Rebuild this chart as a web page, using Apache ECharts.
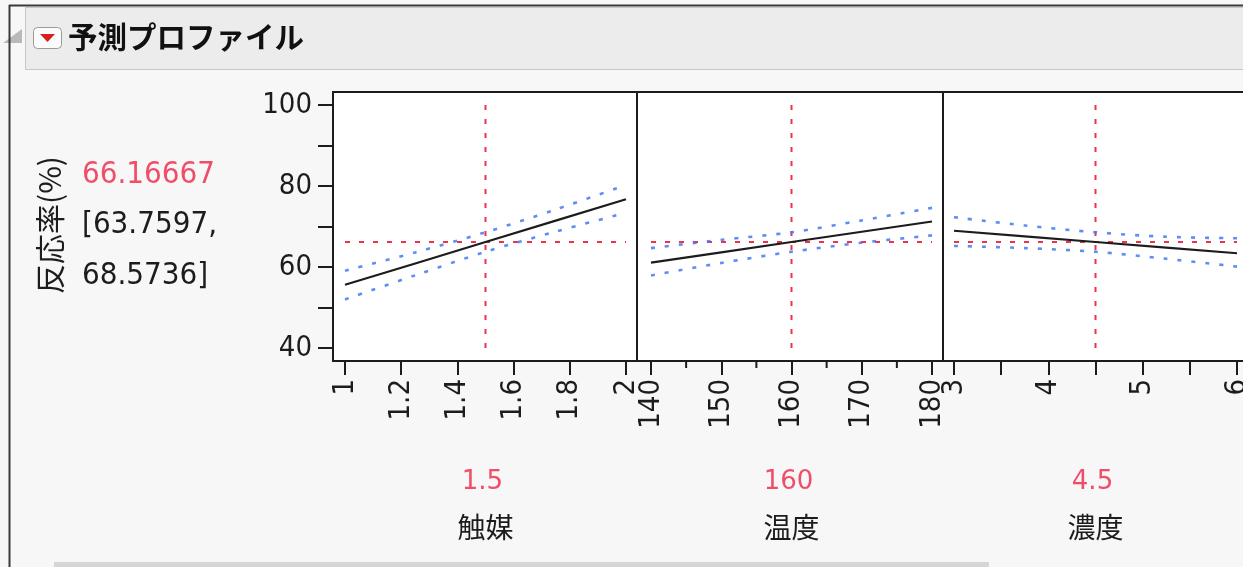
<!DOCTYPE html>
<html>
<head>
<meta charset="utf-8">
<title>予測プロファイル</title>
<script src="https://cdn.jsdelivr.net/npm/echarts@6/dist/echarts.min.js"></script>
<style>
  html, body { margin: 0; padding: 0; background: #f7f7f7; }
  #chart { width: 1243px; height: 567px; }
</style>
</head>
<body>
<div id="chart"></div>
<script>
// Response
const responseName = '反応率(%)';
const prediction = 66.16667;
const ciLow = 63.7597;
const ciHigh = 68.5736;
const yTicks = [40, 50, 60, 70, 80, 90, 100];
const yLabels = [40, 60, 80, 100];

// Factors and their current settings
const factorNames = ['触媒', '温度', '濃度'];
const currentValues = [1.5, 160, 4.5];

// 触媒 (catalyst) profile
const xCatalyst = [1, 1.25, 1.5, 1.75, 2];
const predCatalyst = [55.6, 60.88, prediction, 71.45, 76.73];
const upperCatalyst = [59.1, 63.6, ciHigh, 74.2, 80.25];
const lowerCatalyst = [52.0, 57.95, ciLow, 68.75, 73.4];
const tickCatalyst = [1, 1.2, 1.4, 1.6, 1.8, 2];
const labelCatalyst = [1, 1.2, 1.4, 1.6, 1.8, 2];

// 温度 (temperature) profile
const xTemp = [140, 150, 160, 170, 180];
const predTemp = [61.1, 63.63, prediction, 68.7, 71.23];
const upperTemp = [64.67, 66.7, ciHigh, 71.5, 74.6];
const lowerTemp = [57.9, 61.0, ciLow, 66.0, 67.8];
const tickTemp = [140, 150, 160, 170, 180];
const minorTickTemp = [145, 155, 165, 175];
const labelTemp = [140, 150, 160, 170, 180];

// 濃度 (concentration) profile
const xConc = [3, 3.75, 4.5, 5.25, 6];
const predConc = [68.95, 67.56, prediction, 64.78, 63.39];
const upperConc = [72.3, 70.25, ciHigh, 67.46, 67.1];
const lowerConc = [65.2, 64.67, ciLow, 62.03, 60.1];
const tickConc = [3, 3.5, 4, 4.5, 5, 5.5, 6];
const labelConc = [3, 4, 5, 6];

// ---- layout & styling ----
const NUM_FONT = '"DejaVu Sans Condensed", "DejaVu Sans", sans-serif';
const JP_FONT = '"Noto Sans CJK JP", sans-serif';
const RED = '#f0314e';
const RED_TEXT = '#f04d69';
const BLUE = '#3f7af2';
const INK = '#1c1c1c';

const panels = [
  { x: xCatalyst, pred: predCatalyst, upper: upperCatalyst, lower: lowerCatalyst,
    ticks: tickCatalyst, labels: labelCatalyst, min: 0.9573, max: 2.0392, left: 333, width: 304 },
  { x: xTemp, pred: predTemp, upper: upperTemp, lower: lowerTemp,
    ticks: tickTemp, labels: labelTemp, minor: minorTickTemp, min: 138.007, max: 181.566, left: 637, width: 306 },
  { x: xConc, pred: predConc, upper: upperConc, lower: lowerConc,
    ticks: tickConc, labels: labelConc, min: 2.8834, max: 6.1166, left: 943, width: 305 }
];

const GRID_TOP = 92, GRID_H = 269;
const Y_MIN = 36.79, Y_MAX = 103.21;
const MINOR_TICK_LEN = 7;

const zip = (xs, ys) => xs.map((v, i) => [v, ys[i]]);

const grids = [], xAxes = [], yAxes = [], series = [];

panels.forEach((p, i) => {
  grids.push({
    left: p.left, top: GRID_TOP, width: p.width, height: GRID_H,
    show: true, backgroundColor: '#ffffff', borderColor: INK, borderWidth: 2,
    containLabel: false, outerBoundsMode: 'none'
  });
  xAxes.push({
    type: 'value', gridIndex: i, min: p.min, max: p.max, position: 'bottom',
    splitLine: { show: false },
    axisLine: { show: true, onZero: false, lineStyle: { color: INK, width: 2 } },
    axisTick: { show: true, customValues: p.ticks, length: 14, lineStyle: { color: INK, width: 2 } },
    axisLabel: {
      show: true, customValues: p.labels, rotate: 90, margin: 18,
      fontFamily: NUM_FONT, fontSize: 29, color: INK,
      showMinLabel: true, showMaxLabel: true, hideOverlap: false
    }
  });
  yAxes.push({
    type: 'value', gridIndex: i, min: Y_MIN, max: Y_MAX,
    show: i === 0,
    splitLine: { show: false },
    axisLine: { show: i === 0, lineStyle: { color: INK, width: 2 } },
    axisTick: { show: i === 0, customValues: yTicks, length: 15, lineStyle: { color: INK, width: 2 } },
    axisLabel: {
      show: i === 0, customValues: yLabels, margin: 21,
      fontFamily: NUM_FONT, fontSize: 29, color: INK,
      showMinLabel: true, showMaxLabel: true, hideOverlap: false
    }
  });

  const common = { xAxisIndex: i, yAxisIndex: i, type: 'line', showSymbol: false, symbol: 'none',
                   silent: true, animation: false, clip: true };

  // current response level
  series.push(Object.assign({}, common, {
    data: [[p.x[0], prediction], [p.x[p.x.length - 1], prediction]],
    lineStyle: { color: RED, width: 2, type: [5, 9] }, z: 2
  }));
  // current factor setting
  series.push(Object.assign({}, common, {
    data: [[currentValues[i], yTicks[0]], [currentValues[i], yTicks[yTicks.length - 1]]],
    lineStyle: { color: RED, width: 2, type: [5, 9] }, z: 2
  }));
  // confidence band
  series.push(Object.assign({}, common, {
    data: zip(p.x, p.upper), smooth: 0.3,
    lineStyle: { color: BLUE, width: 2.6, type: [4, 10], opacity: 0.85 }, z: 3
  }));
  series.push(Object.assign({}, common, {
    data: zip(p.x, p.lower), smooth: 0.3,
    lineStyle: { color: BLUE, width: 2.6, type: [4, 10], opacity: 0.85 }, z: 3
  }));
  // predicted response
  series.push(Object.assign({}, common, {
    data: zip(p.x, p.pred),
    lineStyle: { color: INK, width: 2.2 }, z: 4
  }));
});

// shorter minor ticks under the temperature axis, placed through the axis scale
series.push({
  type: 'custom', xAxisIndex: 1, yAxisIndex: 1, silent: true, animation: false, clip: false,
  data: minorTickTemp.map(v => [v, Y_MIN]),
  renderItem: function (params, api) {
    const pt = api.coord([api.value(0), api.value(1)]);
    return {
      type: 'line',
      shape: { x1: pt[0], y1: pt[1], x2: pt[0], y2: pt[1] + MINOR_TICK_LEN },
      style: { stroke: INK, lineWidth: 2 }
    };
  },
  z: 5
});

const chart = echarts.init(document.getElementById('chart'), null, { renderer: 'canvas' });

const baseGraphic = [
  // report outline
  { type: 'line', shape: { x1: 9.5, y1: 5, x2: 9.5, y2: 567 }, style: { stroke: '#3a3a3a', lineWidth: 2 }, z: 10 },
  { type: 'line', shape: { x1: 9, y1: 5.5, x2: 1243, y2: 5.5 }, style: { stroke: '#3a3a3a', lineWidth: 2 }, z: 10 },
  // title bar
  { type: 'rect', shape: { x: 25.5, y: 7.5, width: 1230, height: 62 }, style: { fill: '#ececec', stroke: '#c6c6c6', lineWidth: 1 }, z: 10 },
  { type: 'polygon', shape: { points: [[3, 43], [22, 43], [22, 29]] }, style: { fill: '#b9b9b9' }, z: 9 },
  { type: 'rect', shape: { x: 33.5, y: 27.5, width: 28, height: 21, r: 4 }, style: { fill: '#fbfbfb', stroke: '#9a9a9a', lineWidth: 1 }, z: 11 },
  { type: 'polygon', shape: { points: [[40, 34], [55, 34], [47.5, 42]] }, style: { fill: '#d81e1e' }, z: 12 },
  { type: 'text', x: 68, y: 37, z: 12,
    style: { text: '予測プロファイル', font: 'bold 29.5px ' + JP_FONT, fill: '#111',
             align: 'left', verticalAlign: 'middle', textAlign: 'left', textVerticalAlign: 'middle' } },
  // response name and current prediction
  { type: 'text', x: 50, y: 225, rotation: Math.PI / 2, z: 12,
    style: { text: responseName, font: '30px ' + JP_FONT, fill: INK,
             align: 'center', verticalAlign: 'middle', textAlign: 'center', textVerticalAlign: 'middle' } },
  { type: 'text', x: 82, y: 175, z: 12,
    style: { text: prediction.toFixed(5), font: '31px ' + NUM_FONT, fill: RED_TEXT,
             align: 'left', verticalAlign: 'middle', textAlign: 'left', textVerticalAlign: 'middle' } },
  { type: 'text', x: 82, y: 225, z: 12,
    style: { text: '[' + ciLow.toFixed(4) + ',', font: '31px ' + NUM_FONT, fill: INK,
             align: 'left', verticalAlign: 'middle', textAlign: 'left', textVerticalAlign: 'middle' } },
  { type: 'text', x: 82, y: 276, z: 12,
    style: { text: ciHigh.toFixed(4) + ']', font: '31px ' + NUM_FONT, fill: INK,
             align: 'left', verticalAlign: 'middle', textAlign: 'left', textVerticalAlign: 'middle' } },
  // scroll bar
  { type: 'rect', shape: { x: 54, y: 562, width: 935, height: 6 }, style: { fill: '#d6d6d6' }, z: 10 }
];

chart.setOption({
  backgroundColor: '#f7f7f7',
  animation: false,
  grid: grids,
  xAxis: xAxes,
  yAxis: yAxes,
  series: series,
  graphic: baseGraphic
});

// factor settings and names under each panel
const factorGraphic = [];
panels.forEach((p, i) => {
  const px = chart.convertToPixel({ xAxisIndex: i }, currentValues[i]);
  factorGraphic.push({ type: 'text', x: px - 3, y: 482, z: 12,
    style: { text: String(currentValues[i]), font: '26px "DejaVu Sans", sans-serif', fill: RED_TEXT,
             align: 'center', verticalAlign: 'middle', textAlign: 'center', textVerticalAlign: 'middle' } });
  factorGraphic.push({ type: 'text', x: px, y: 527, z: 12,
    style: { text: factorNames[i], font: '28px ' + JP_FONT, fill: INK,
             align: 'center', verticalAlign: 'middle', textAlign: 'center', textVerticalAlign: 'middle' } });
});

chart.setOption({ graphic: baseGraphic.concat(factorGraphic) }, { replaceMerge: ['graphic'] });
</script>
</body>
</html>
